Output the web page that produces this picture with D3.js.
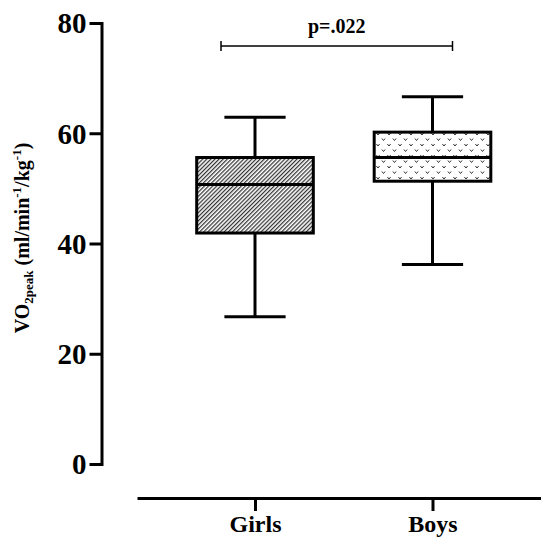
<!DOCTYPE html>
<html>
<head>
<meta charset="utf-8">
<script src="https://cdn.jsdelivr.net/npm/d3@7"></script>
<style>
  html, body { margin: 0; padding: 0; background: #fff; }
  svg { display: block; }
  text { font-family: "Liberation Serif", "Times New Roman", serif; font-weight: bold; fill: #000; }
</style>
</head>
<body>
<svg id="chart" width="541" height="538"></svg>
<script>
// ---- data ----
const categories = ["Girls", "Boys"];
const whiskerMin = [26.7, 36.2];
const q1Values = [41.9, 51.3];
const medianValues = [50.7, 55.6];
const q3Values = [55.6, 60.2];
const whiskerMax = [62.9, 66.6];
const yTicks = [0, 20, 40, 60, 80];
const pLabel = "p=.022";

const svg = d3.select("#chart");
const defs = svg.append("defs");

// hatch pattern for Girls
const hatch = defs.append("pattern")
  .attr("id", "hatch")
  .attr("patternUnits", "userSpaceOnUse")
  .attr("width", 2.9).attr("height", 10)
  .attr("patternTransform", "rotate(45)");
hatch.append("rect").attr("width", 2.9).attr("height", 10).attr("fill", "#fff");
hatch.append("line").attr("x1", 0.7).attr("y1", 0).attr("x2", 0.7).attr("y2", 10)
  .attr("stroke", "#000").attr("stroke-width", 1.0);

// "v" marks pattern for Boys
const vpat = defs.append("pattern")
  .attr("id", "vmarks")
  .attr("patternUnits", "userSpaceOnUse")
  .attr("width", 11).attr("height", 11)
  .attr("x", 375).attr("y", 131);
vpat.append("rect").attr("width", 11).attr("height", 11).attr("fill", "#fff");
[[3, 3], [8.5, 8.5]].forEach(([cx, cy]) => {
  vpat.append("path")
    .attr("d", `M${cx - 1.6},${cy - 1} L${cx},${cy + 1} L${cx + 1.6},${cy - 1}`)
    .attr("fill", "none").attr("stroke", "#333").attr("stroke-width", 1);
});

// ---- scales ----
const y = d3.scaleLinear().domain([0, 80]).range([464, 23]);
const x = d3.scalePoint().domain(categories).range([137, 550.5]).padding(0.6648);
const step = x.step();
const boxW = step * 0.657;
const capW = step * 0.345;

// ---- y axis ----
const yAxis = svg.append("g")
  .attr("transform", "translate(101.5,0)")
  .call(d3.axisLeft(y).tickValues(yTicks).tickSizeOuter(0).tickSizeInner(12).tickPadding(3));
yAxis.select(".domain").attr("stroke", "#000").attr("stroke-width", 3).attr("stroke-linecap", "square");
yAxis.selectAll(".tick line").attr("stroke", "#000").attr("stroke-width", 3);
yAxis.selectAll(".tick text")
  .style("font-family", '"Liberation Serif", serif')
  .style("font-weight", "bold")
  .style("font-size", "29px")
  .attr("dy", "0.34em");

// ---- x axis ----
const xAxis = svg.append("g")
  .attr("transform", "translate(0,498)")
  .call(d3.axisBottom(x).tickSizeOuter(0).tickSizeInner(13).tickPadding(4));
xAxis.select(".domain").attr("stroke", "#000").attr("stroke-width", 3);
xAxis.selectAll(".tick line").attr("stroke", "#000").attr("stroke-width", 3);
xAxis.selectAll(".tick text")
  .style("font-family", '"Liberation Serif", serif')
  .style("font-weight", "bold")
  .style("font-size", "24px")
  .attr("y", 34).attr("dy", 0);

// ---- y label ----
const yl = svg.append("text")
  .attr("transform", "translate(29,238) rotate(-90)")
  .attr("text-anchor", "middle")
  .style("font-size", "20px");
yl.append("tspan").text("VO");
yl.append("tspan").text("2peak").style("font-size", "13px").attr("dy", 4);
yl.append("tspan").text(" (ml/min").attr("dy", -4);
yl.append("tspan").text("-1").style("font-size", "13px").attr("dy", -8);
yl.append("tspan").text("/kg").attr("dy", 8);
yl.append("tspan").text("-1").style("font-size", "13px").attr("dy", -8);
yl.append("tspan").text(")").attr("dy", 8);

// ---- boxes ----
const fills = ["url(#hatch)", "url(#vmarks)"];
const g = svg.append("g").attr("stroke", "#000").attr("stroke-width", 3).attr("fill", "none");
categories.forEach((c, i) => {
  const cx = x(c);
  // whiskers
  g.append("line").attr("x1", cx).attr("x2", cx).attr("y1", y(whiskerMax[i])).attr("y2", y(q3Values[i]));
  g.append("line").attr("x1", cx).attr("x2", cx).attr("y1", y(q1Values[i])).attr("y2", y(whiskerMin[i]));
  g.append("line").attr("x1", cx - capW / 2).attr("x2", cx + capW / 2).attr("y1", y(whiskerMax[i])).attr("y2", y(whiskerMax[i]));
  g.append("line").attr("x1", cx - capW / 2).attr("x2", cx + capW / 2).attr("y1", y(whiskerMin[i])).attr("y2", y(whiskerMin[i]));
  // box
  g.append("rect")
    .attr("x", cx - boxW / 2).attr("width", boxW)
    .attr("y", y(q3Values[i])).attr("height", y(q1Values[i]) - y(q3Values[i]))
    .attr("fill", fills[i]);
  g.append("line").attr("x1", cx - boxW / 2).attr("x2", cx + boxW / 2)
    .attr("y1", y(medianValues[i])).attr("y2", y(medianValues[i]));
});

// ---- significance bracket ----
const x0 = x(categories[0]) - 34, x1 = x(categories[1]) + 20;
const by = 46;
const sb = svg.append("g").attr("stroke", "#000").attr("stroke-width", 1.5);
sb.append("line").attr("x1", x0).attr("x2", x1).attr("y1", by).attr("y2", by);
sb.append("line").attr("x1", x0).attr("x2", x0).attr("y1", by - 5).attr("y2", by + 5);
sb.append("line").attr("x1", x1).attr("x2", x1).attr("y1", by - 5).attr("y2", by + 5);
svg.append("text")
  .attr("x", (x0 + x1) / 2).attr("y", 33)
  .attr("text-anchor", "middle")
  .style("font-size", "20px")
  .text(pLabel);
</script>
</body>
</html>
